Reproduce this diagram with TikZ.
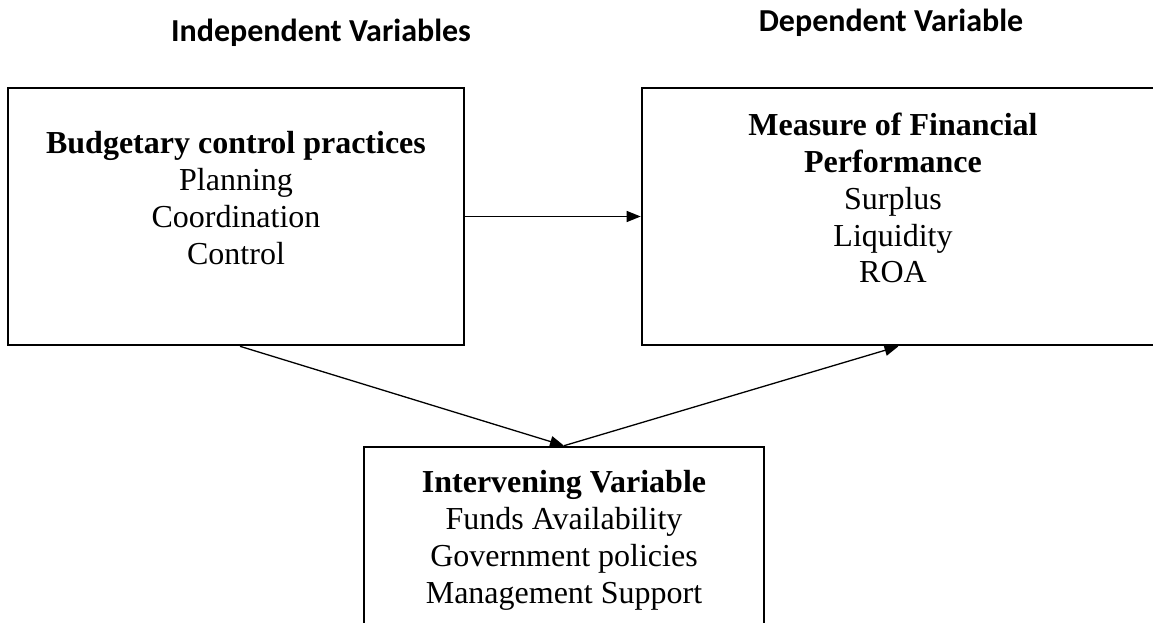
\documentclass[tikz,border=0pt]{standalone}
\usepackage{fontspec}
\setmainfont{Liberation Serif}
\newfontfamily\headfont{Carlito}
\usetikzlibrary{arrows.meta,calc}

\begin{document}
\begin{tikzpicture}[x=1pt,y=-1pt,
  frame/.style={draw, line width=2.6pt, rectangle, inner sep=0pt},
  boxtext/.style={align=center, anchor=north, inner sep=0pt, font=\fontsize{32}{36.8}\selectfont},
  heading/.style={anchor=base, inner sep=0pt, font=\headfont\bfseries\fontsize{32}{38}\selectfont},
  link/.style={line width=1.3pt, -{Triangle[length=14pt,width=11pt]}}]
\useasboundingbox (0,0) rectangle (1153,623);
\fill[white] (0,0) rectangle (1153,623);
\clip (0,0) rectangle (1153,623);

% column headings
\node[heading] (hind) at (321,42) {Independent Variables};
\node[heading] (hdep) at (891,32) {Dependent Variable};

% the three frames
\node[frame, minimum width=456pt, minimum height=257pt] (L) at (236,216.5) {};
\node[frame, minimum width=513pt, minimum height=257pt] (R) at (898.5,216.5) {};
\node[frame, minimum width=400pt, minimum height=196pt] (B) at (564,545) {};

% frame contents
\node[boxtext] (Ltxt) at (236,131.3) {\textbf{Budgetary control practices}\\Planning\\Coordination\\Control};
\node[boxtext] (Rtxt) at (893,113) {\textbf{Measure of Financial}\\\textbf{Performance}\\Surplus\\Liquidity\\ROA};
\node[boxtext] (Btxt) at (564,470.3) {\textbf{Intervening Variable}\\Funds Availability\\Government policies\\Management Support};

% connectors
\draw[link] (L.east) -- (L.east -| R.west);
\draw[link] ($(L.south)+(4,0)$) -- (B.north);
\draw[link] (B.north) -- (R.south);
\end{tikzpicture}
\end{document}
